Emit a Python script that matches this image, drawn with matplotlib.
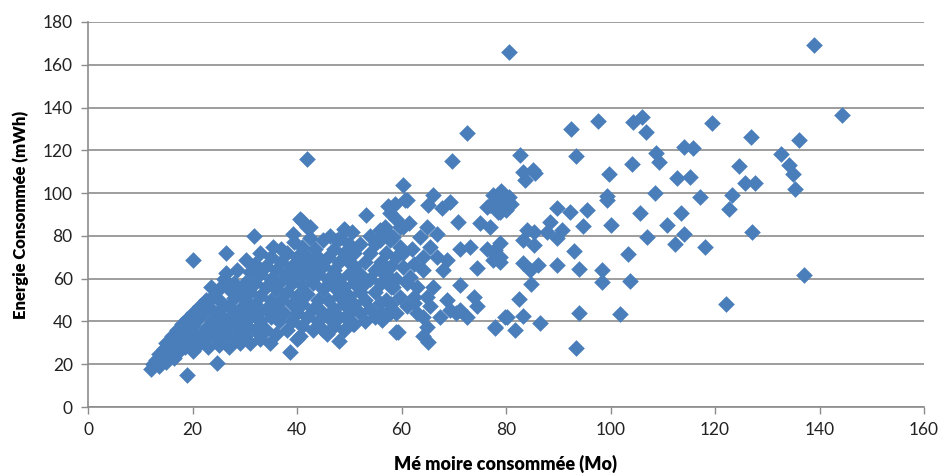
import matplotlib
matplotlib.use("Agg")
import matplotlib.pyplot as plt

# ---- data: memory (Mo) and energy (mWh), grouped by region of the chart ----
mem_a = [12, 12.5, 13, 13.5, 13.5, 14, 14.5, 15, 15, 15.5, 16, 16, 16.5, 17, 17, 17.5, 18, 18, 18.5, 19, 19, 19, 19.5, 20, 20, 20, 20.1]
nrg_a = [18, 20, 22, 19, 25, 23, 27, 21, 30, 25, 28, 33, 23, 30, 36, 26, 33, 39, 28, 15, 36, 41, 31, 26, 38, 44, 68.5]

mem_b = [20.5, 21, 21, 21.5, 22, 22, 22, 22.5, 23, 23, 23.5, 23.5, 24, 24, 24, 24.6, 25, 25, 25, 25, 25.5, 26, 26, 26,
         26.5, 26.5, 27, 27, 27, 27, 27.5, 28, 28, 28, 28.5, 28.5, 29, 29, 29, 29, 29.5, 30, 30, 30, 30.3, 30.5, 30.5]
nrg_b = [33, 29, 41, 47, 35, 31, 44, 50, 38, 28, 46, 56, 33, 41, 52, 20.4, 29, 37, 45, 55, 49, 33, 41, 60,
         71.8, 62.5, 28, 37, 47, 55, 43, 32, 51, 58, 40, 64, 30, 36, 46, 54, 42, 33, 50, 58, 68.7, 38, 46]

mem_c = [31, 31, 31, 31, 31.7, 32, 32, 32, 32, 32.5, 33, 33, 33, 33, 33, 34, 34, 34, 34, 34.8, 35, 35, 35, 35, 35.5,
         36, 36, 36, 36, 36.5, 37, 37, 37, 37, 37.5, 38, 38, 38, 38, 38.6, 39, 39, 39, 39, 39.3, 39.5, 40, 40, 40, 40, 40, 40.6]
nrg_c = [30, 42, 54, 63, 80, 36, 48, 58, 67, 44, 32, 40, 52, 62, 72, 36, 46, 56, 66, 30, 42, 50, 60, 70, 75,
         34, 46, 55, 64, 40, 50, 59, 68, 74, 44, 36, 54, 63, 72, 25.5, 40, 48, 58, 66, 81, 77, 32, 44, 52, 62, 70, 33]

mem_d = [40.6, 40.9, 41, 41, 41, 41, 41, 42, 42, 42, 42, 42, 42, 42.5, 42.5, 43, 43, 43, 43, 43.5, 44, 44, 44, 44, 44.5,
         45, 45, 45, 45, 45.7, 46, 46, 46, 46, 46.3, 47, 47, 47, 47, 47, 47.6, 48, 48, 48, 48, 48, 48.2, 48.9, 49, 49,
         49, 49, 49.2, 50, 50, 50, 50, 50, 50, 50.5, 50.8]
nrg_d = [88, 87, 38, 48, 57, 66, 75, 116, 84, 42, 53, 62, 70, 79, 84, 36, 46, 58, 66, 74, 40, 50, 62, 70, 45,
         36, 55, 66, 78, 34, 42, 50, 60, 70, 80, 38, 46, 56, 64, 74, 78, 31, 42, 52, 60, 68, 79, 83, 36, 48,
         56, 72, 82.7, 40, 44, 52, 62, 68, 76, 82, 39]

mem_e = [51, 51, 51, 51, 51, 52, 52, 52, 52, 53, 53, 53, 53, 53.3, 54, 54, 54, 54, 55, 55, 55, 55, 56, 56, 56, 56.5,
         57, 57, 57, 57, 57.5, 58, 58, 58, 58, 59, 59, 59, 59, 59, 55.9, 57.8, 59.7, 56.5, 57.8]
nrg_e = [39, 48, 58, 66, 72, 44, 54, 62, 76, 40, 50, 58, 68, 90, 46, 60, 72, 80, 42, 54, 64, 76, 44, 58, 68, 82,
         43, 50, 62, 72, 94, 48, 56, 66, 80, 35, 44, 60, 70, 88, 82.7, 78, 84.3, 43, 43.8]

mem_f = [60.2, 60.7, 58.8, 57.8, 60.3, 56.8, 58.4, 55.9, 59.7, 60.3, 60.3, 62.3, 61.6, 64.2, 64.8, 63.5, 66.7, 65.5,
         64.2, 66.7, 66.1, 65.1, 69.3, 67.7, 70.9, 68, 68.7, 71.2, 73.1, 74.4, 59.7, 61, 62.3, 62.9, 64.8, 65.5, 64.2,
         64.8, 64.2, 65.1, 59.4, 68.7, 71.2, 69.3, 67.4, 71.2, 73.8, 74.4, 72.5, 55.9, 57.2, 58.4, 55.9, 57.2, 56.2,
         61, 63, 66, 62, 61.5, 69.7, 72.5, 61, 62.3, 70.5]
nrg_f = [104, 97, 95, 90.5, 84, 84, 79.6, 78, 75, 72, 65.6, 67, 61, 64, 84, 79.6, 81, 75,
         70, 70, 99, 94.4, 96, 93, 86.6, 64, 68.7, 74, 75, 65, 51.5, 47, 51.5, 43.8, 51.5, 47, 42.2,
         37.5, 33, 30.5, 35.2, 50, 57, 45.3, 42.2, 45.3, 51.5, 47, 42.2, 64, 59.3, 56.2, 48.5, 43.8, 40.7,
         58, 56, 56, 74, 86, 115, 128, 96.7, 48.5, 44]

mem_g = [77.6, 79.5, 77, 78.9, 78.9, 76.3, 78.5, 75, 76.9, 76.3, 77.9, 78.9, 77.6, 77.9, 79.8,
         80.5, 82.6, 83.3, 85.2, 85.6, 83.7, 78, 79, 80.5, 81, 80, 84, 85.3, 83.3, 85.3, 78.9, 78.9, 77.6,
         83.3, 86.2, 84.6, 84.7, 82.4, 80.2, 83.3, 81.7, 77.9, 86.5, 88.4, 87.8, 89.7, 90.7, 92.3, 89.7,
         95.5, 94.7, 93, 89.7, 93.9, 93.9, 93.4, 92.5, 93.4, 97.6, 98.3, 98.3, 99.3, 99.4, 99.8, 100.1,
         101.9, 103.4, 103.8, 104.2, 104.3, 106, 106.8, 105.7, 107, 108.6, 108.7, 109.3, 110.8, 112.7,
         113.5, 114, 112.4, 114, 115.3, 115.7, 117.2, 118.1]
nrg_g = [99, 99.8, 94.4, 91.3, 96, 93.6, 91.3, 85.8, 84.3, 74, 73.4, 70.2, 68.7, 37.5, 42.2,
         166.2, 117.8, 110, 110.7, 109.2, 106.2, 97, 101, 98, 95, 92, 82.7, 81.9, 78, 75.7, 76.5, 67.9, 72.6,
         67.1, 66.4, 64, 57.5, 50.3, 41.9, 42.5, 36, 36.8, 39.4, 86.6, 81.9, 78.8, 82.7, 91.3, 92.9,
         92.1, 84.7, 73, 66.4, 64.3, 44.1, 27.7, 130.2, 117.3, 133.6, 64, 58.6, 98.7, 96.7, 108.9, 85,
         43.5, 71.5, 59, 113.4, 133.3, 135.7, 128.4, 90.5, 79.3, 100.1, 118.8, 114.6, 85, 106.9,
         90.5, 80.8, 76.2, 121.6, 107.3, 121.2, 98.3, 74.9]

mem_h = [139, 144.4, 119.5, 126.8, 136.1, 132.6, 134.2, 135, 135.4, 124.6, 125.7, 127.7, 123.2, 122.7, 127.1, 137.1, 122.1]
nrg_h = [169.2, 136.4, 133, 126.3, 124.9, 118.2, 113.1, 108.9, 101.9, 112.9, 104.8, 104.5, 99.1, 92.4, 81.8, 61.7, 48.1]

groups = [(mem_a, nrg_a), (mem_b, nrg_b), (mem_c, nrg_c), (mem_d, nrg_d),
          (mem_e, nrg_e), (mem_f, nrg_f), (mem_g, nrg_g), (mem_h, nrg_h)]
x_ticks = [0, 20, 40, 60, 80, 100, 120, 140, 160]
y_ticks = [0, 20, 40, 60, 80, 100, 120, 140, 160, 180]

plt.rcParams['font.family'] = ['Lato', 'DejaVu Sans']

fig = plt.figure(figsize=(9.42, 4.75), dpi=100)
ax = fig.add_axes([88 / 942, 68 / 475, 836 / 942, 385 / 475])

color = '#4A7EBB'
for mx, ny in groups:
    ax.scatter(mx, ny, marker='D', s=72, color=color, linewidths=0, zorder=3)

ax.set_xlim(0, 160)
ax.set_ylim(0, 180)
ax.set_xticks(x_ticks)
ax.set_yticks(y_ticks)
ax.yaxis.grid(True, color='#8c8c8c', linewidth=1.2)
ax.set_axisbelow(True)
for side in ['top', 'right']:
    ax.spines[side].set_visible(False)
for side in ['left', 'bottom']:
    ax.spines[side].set_color('#8c8c8c')
    ax.spines[side].set_linewidth(1.2)
ax.tick_params(axis='both', direction='out', length=5, width=1.0, color='#8c8c8c',
               labelsize=12.5, labelcolor='#222222', pad=6)

ax.set_xlabel('Mé moire consommée (Mo)', fontsize=13, fontweight='heavy', labelpad=12)
ax.set_ylabel('Energie Consommée (mWh)', fontsize=12, fontweight='heavy', labelpad=10)

fig.savefig('out.png', dpi=100)
